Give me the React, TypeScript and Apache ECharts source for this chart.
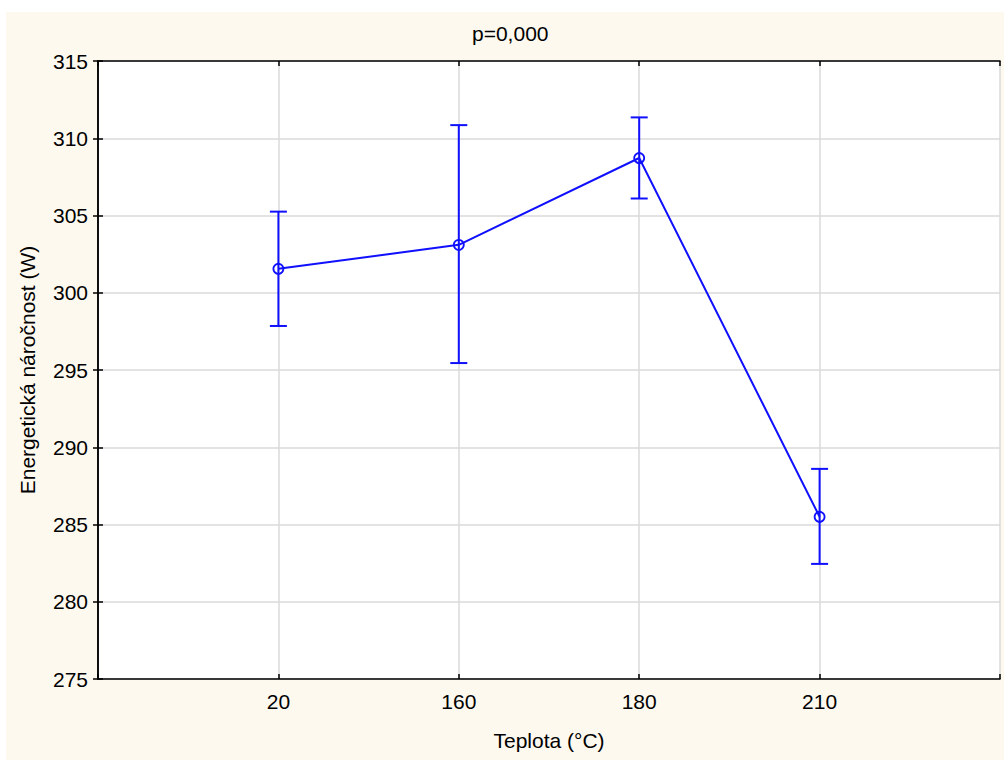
import React, { useEffect, useRef } from "react";
import * as echarts from "echarts";

const categories = ["20", "160", "180", "210"];
const means = [301.55, 303.1, 308.72, 285.5];
const upper = [305.25, 310.85, 311.35, 288.6];
const lower = [297.85, 295.45, 306.1, 282.45];
const yMin = 275;
const yMax = 315;
const yStep = 5;
const titleText = "p=0,000";
const xName = "Teplota (°C)";
const yName = "Energetická náročnost (W)";

const BLUE = "#1010ff";
const CREAM = "#fdf9ef";
const FONT = "'Liberation Sans', Arial, sans-serif";

export default function App() {
  const ref = useRef<HTMLDivElement>(null);

  useEffect(() => {
    if (!ref.current) return;
    const chart = echarts.init(ref.current, undefined, { renderer: "svg" });

    const lineData = means.map((m, i) => [i + 1, m]);
    const errData = categories.map((_, i) => [i + 1, lower[i], upper[i]]);

    const xCommon = {
      type: "value" as const,
      min: 0,
      max: categories.length + 1,
      interval: 1,
    };
    const yCommon = {
      type: "value" as const,
      min: yMin,
      max: yMax,
      interval: yStep,
    };

    chart.setOption({
      animation: false,
      backgroundColor: CREAM,
      textStyle: { fontFamily: FONT },
      title: {
        text: titleText,
        left: 461,
        top: 6,
        textStyle: { fontSize: 21, fontWeight: "normal", color: "#000", fontFamily: FONT },
      },
      grid: {
        left: 92,
        top: 49,
        right: 4,
        bottom: 81,
        show: true,
        backgroundColor: "#fff",
        borderColor: "#000",
        borderWidth: 0,
      },
      xAxis: [
        {
          ...xCommon,
          position: "bottom",
          name: xName,
          nameLocation: "middle",
          nameGap: 51,
          nameTextStyle: { fontSize: 21, color: "#000", fontFamily: FONT },
          axisLine: { show: true, lineStyle: { color: "#000", width: 1.5 } },
          axisTick: { show: true, inside: true, length: 5, lineStyle: { color: "#000", width: 1.5 } },
          axisLabel: {
            fontSize: 21,
            color: "#000",
            margin: 12,
            fontFamily: FONT,
            formatter: (v: number) => categories[v - 1] ?? "",
          },
          splitLine: { show: true, lineStyle: { color: "#dadada", width: 1.5 } },
        },
        {
          ...xCommon,
          position: "top",
          axisLine: { show: true, lineStyle: { color: "#000", width: 1.5 } },
          axisTick: { show: true, inside: true, length: 5, lineStyle: { color: "#000", width: 1.5 } },
          axisLabel: { show: false },
          splitLine: { show: false },
        },
      ],
      yAxis: [
        {
          ...yCommon,
          position: "left",
          name: yName,
          nameLocation: "middle",
          nameGap: 60,
          nameTextStyle: { fontSize: 21, color: "#000", fontFamily: FONT },
          axisLine: { show: true, lineStyle: { color: "#000", width: 1.5 } },
          axisTick: { show: true, inside: true, length: 5, lineStyle: { color: "#000", width: 1.5 } },
          axisLabel: { fontSize: 21, color: "#000", margin: 10, fontFamily: FONT },
          splitLine: { show: true, lineStyle: { color: "#dadada", width: 1.5 } },
        },
        {
          ...yCommon,
          position: "right",
          axisLine: { show: true, lineStyle: { color: "#000", width: 1.5 } },
          axisTick: { show: true, inside: true, length: 5, lineStyle: { color: "#000", width: 1.5 } },
          axisLabel: { show: false },
          splitLine: { show: false },
        },
      ],
      series: [
        {
          type: "custom",
          xAxisIndex: 0,
          yAxisIndex: 0,
          data: errData,
          encode: { x: 0, y: [1, 2] },
          z: 3,
          renderItem: (_params: any, api: any) => {
            const x = api.value(0);
            const lo = api.value(1);
            const hi = api.value(2);
            const pHi = api.coord([x, hi]);
            const pLo = api.coord([x, lo]);
            const hw = 8.5;
            const style = { stroke: BLUE, lineWidth: 2 };
            return {
              type: "group",
              children: [
                { type: "line", shape: { x1: pHi[0], y1: pHi[1], x2: pLo[0], y2: pLo[1] }, style },
                { type: "line", shape: { x1: pHi[0] - hw, y1: pHi[1], x2: pHi[0] + hw, y2: pHi[1] }, style },
                { type: "line", shape: { x1: pLo[0] - hw, y1: pLo[1], x2: pLo[0] + hw, y2: pLo[1] }, style },
              ],
            };
          },
        },
        {
          type: "line",
          xAxisIndex: 0,
          yAxisIndex: 0,
          data: lineData,
          z: 4,
          symbol: "circle",
          symbolSize: 10,
          lineStyle: { color: BLUE, width: 2 },
          itemStyle: { color: "rgba(255,255,255,0)", borderColor: BLUE, borderWidth: 1.8 },
        },
      ],
    });

    return () => chart.dispose();
  }, []);

  return (
    <div style={{ position: "absolute", left: 0, top: 0, width: 1004, height: 760, background: "#fff" }}>
      <div
        ref={ref}
        style={{ position: "absolute", left: 6, top: 12, width: 998, height: 748, background: CREAM }}
      />
    </div>
  );
}
